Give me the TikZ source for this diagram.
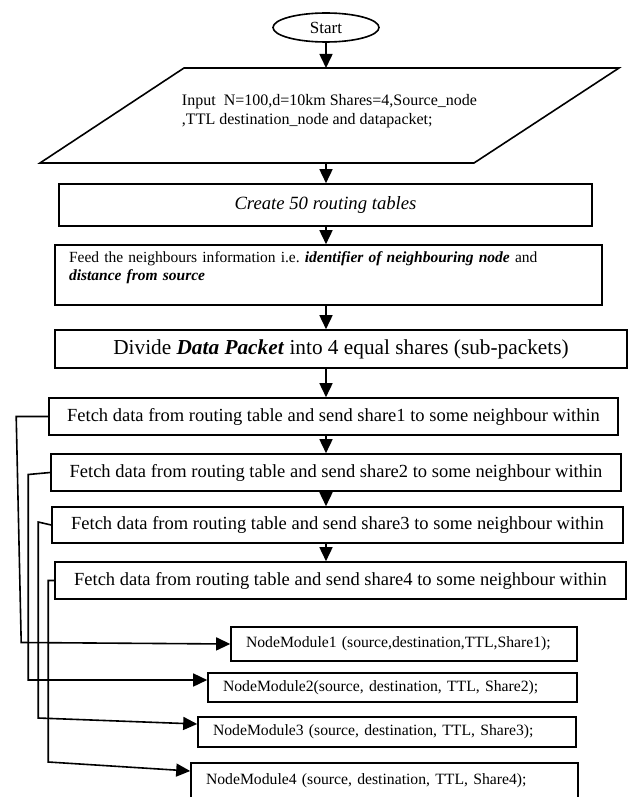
\documentclass[tikz,border=0pt]{standalone}
\usepackage{fontspec}
\setmainfont{Liberation Serif}
\usetikzlibrary{shapes.geometric,arrows.meta}
\newcommand\fsz[1]{\fontsize{#1pt}{\dimexpr #1pt*115/100\relax}\selectfont}
\tikzset{
  box/.style={draw, rectangle, line width=1.6pt, inner sep=0pt},
  nm/.style={box, align=left, inner xsep=15pt, font=\fsz{15.7}},
  fetch/.style={box, minimum height=37, font=\fsz{18.5}},
  arr/.style={line width=1.6pt, -{Triangle[length=14pt,width=13pt]}},
}
\begin{document}
\begin{tikzpicture}[x=1pt,y=-1pt]
\useasboundingbox (0,0) rectangle (629,797);
\clip (0,0) rectangle (629,797);
% start and input
\node[draw, ellipse, line width=1.6pt, minimum width=106, minimum height=29, inner sep=0pt, font=\fsz{17}] (start) at (326,27.5) {Start};
\draw[line width=1.6pt] (184,68) -- (619,68) -- (474,163) -- (40,163) -- cycle;
\coordinate (inpN) at (329.5,68);
\coordinate (inpS) at (329.5,163);
\node[align=left, inner sep=0pt, font=\fsz{16}] (inp) at (329.5,111) {Input\ \ N=100,d=10km Shares=4,Source\_node\\,TTL destination\_node and datapacket;};
% tables and packet
\node[box, minimum width=533, minimum height=42, font=\fsz{18.7}\itshape] (tab) at (325.5,205) {Create 50 routing tables};
\node[box, minimum width=547, minimum height=60, text width=519, inner xsep=14pt, align=left, font=\fsz{15.5}] (feed) at (328.5,275) {Feed the neighbours information i.e.\ \textbf{\textit{identifier of neighbouring node}} and\\\textbf{\textit{distance from source}}\\\mbox{}};
\node[box, minimum width=572, minimum height=38, font=\fsz{21.3}] (div) at (341,349) {Divide \textbf{\textit{Data Packet}} into 4 equal shares (sub-packets)};
% shares
\node[fetch, minimum width=569] (f1) at (333.5,416.5) {Fetch data from routing table and send share1 to some neighbour within};
\node[fetch, minimum width=570] (f2) at (336,472.5) {Fetch data from routing table and send share2 to some neighbour within};
\node[fetch, minimum width=571, minimum height=36] (f3) at (337.5,525) {Fetch data from routing table and send share3 to some neighbour within};
\node[fetch, minimum width=571] (f4) at (340.5,580.5) {Fetch data from routing table and send share4 to some neighbour within};
% node modules
\node[nm, text width=316, minimum height=34] (m1) at (404,644) {NodeModule1 (source,destination,TTL,Share1);};
\node[nm, text width=339, minimum height=29] (m2) at (392.5,687.5) {NodeModule2(source, destination, TTL, Share2);};
\node[nm, text width=348, minimum height=30] (m3) at (387,732) {NodeModule3 (source, destination, TTL, Share3);};
\node[nm, text width=357, minimum height=36] (m4) at (384.5,781) {NodeModule4 (source, destination, TTL, Share4);};
% main flow
\draw[arr] (start.south) -- (start.south |- inpN);
\draw[arr] (inpS -| start) -- (tab.north -| start);
\draw[arr] (tab.south -| start) -- (feed.north -| start);
\draw[arr] (feed.south -| start) -- (div.north -| start);
\draw[arr] (div.south -| start) -- (f1.north -| start);
\draw[arr] (f1.south -| start) -- (f2.north -| start);
\draw[arr] (f2.south -| start) -- (f3.north -| start);
\draw[arr] (f3.south -| start) -- (f4.north -| start);
% side links
\draw[arr] (f1.west) -- ++(-32,0) -- ++(5,226) -- (m1.west);
\draw[arr] (f2.west) -- ++(-22,2) -- ++(0,205.5) -- ([yshift=7.5pt]m2.west);
\draw[arr] (f3.west) -- ++(-13,-3) -- ++(0,196) -- ([yshift=8pt]m3.west);
\draw[arr] (f4.west) -- ++(-6,0) -- ++(0,181.5) -- ([yshift=10pt]m4.west);
\end{tikzpicture}
\end{document}
